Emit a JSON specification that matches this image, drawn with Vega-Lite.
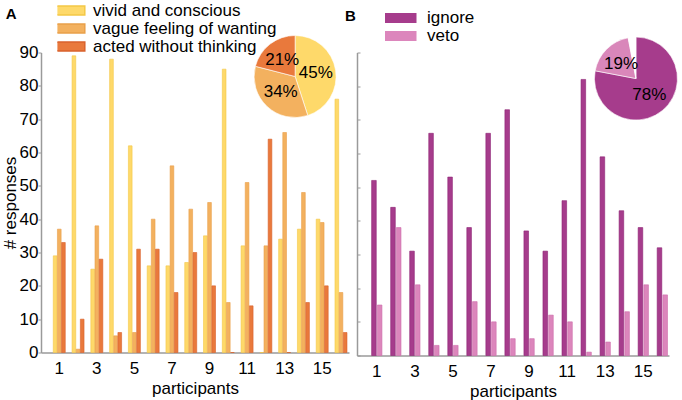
{
  "$schema": "https://vega.github.io/schema/vega-lite/v6.json",
  "background": "white",
  "padding": {"left": 1, "top": 2.5, "right": 4, "bottom": 2},
  "bounds": "flush",
  "spacing": 8,
  "config": {
    "font": "Liberation Sans",
    "view": {"stroke": null},
    "axis": {
      "grid": false,
      "domainColor": "#9a9a9a",
      "domainWidth": 1.5,
      "tickColor": "#9a9a9a",
      "labelFontSize": 17,
      "labelColor": "black",
      "titleFontSize": 17,
      "titleFontWeight": "normal",
      "titleColor": "black"
    },
    "legend": {"labelFontSize": 17, "labelColor": "black", "labelLimit": 400},
    "text": {"color": "black"}
  },
  "resolve": {
    "scale": {
      "x": "independent",
      "y": "independent",
      "xOffset": "independent",
      "color": "independent",
      "stroke": "independent",
      "theta": "independent"
    }
  },
  "datasets": {
    "responses": [
      {"participant": 1, "category": "vivid and conscious", "count": 29},
      {"participant": 1, "category": "vague feeling of wanting", "count": 37},
      {"participant": 1, "category": "acted without thinking", "count": 33},
      {"participant": 2, "category": "vivid and conscious", "count": 89},
      {"participant": 2, "category": "vague feeling of wanting", "count": 1},
      {"participant": 2, "category": "acted without thinking", "count": 10},
      {"participant": 3, "category": "vivid and conscious", "count": 25},
      {"participant": 3, "category": "vague feeling of wanting", "count": 38},
      {"participant": 3, "category": "acted without thinking", "count": 28},
      {"participant": 4, "category": "vivid and conscious", "count": 88},
      {"participant": 4, "category": "vague feeling of wanting", "count": 5},
      {"participant": 4, "category": "acted without thinking", "count": 6},
      {"participant": 5, "category": "vivid and conscious", "count": 62},
      {"participant": 5, "category": "vague feeling of wanting", "count": 6},
      {"participant": 5, "category": "acted without thinking", "count": 31},
      {"participant": 6, "category": "vivid and conscious", "count": 26},
      {"participant": 6, "category": "vague feeling of wanting", "count": 40},
      {"participant": 6, "category": "acted without thinking", "count": 31},
      {"participant": 7, "category": "vivid and conscious", "count": 26},
      {"participant": 7, "category": "vague feeling of wanting", "count": 56},
      {"participant": 7, "category": "acted without thinking", "count": 18},
      {"participant": 8, "category": "vivid and conscious", "count": 27},
      {"participant": 8, "category": "vague feeling of wanting", "count": 43},
      {"participant": 8, "category": "acted without thinking", "count": 30},
      {"participant": 9, "category": "vivid and conscious", "count": 35},
      {"participant": 9, "category": "vague feeling of wanting", "count": 45},
      {"participant": 9, "category": "acted without thinking", "count": 20},
      {"participant": 10, "category": "vivid and conscious", "count": 85},
      {"participant": 10, "category": "vague feeling of wanting", "count": 15},
      {"participant": 10, "category": "acted without thinking", "count": 0},
      {"participant": 11, "category": "vivid and conscious", "count": 32},
      {"participant": 11, "category": "vague feeling of wanting", "count": 51},
      {"participant": 11, "category": "acted without thinking", "count": 14},
      {"participant": 12, "category": "vivid and conscious", "count": 0},
      {"participant": 12, "category": "vague feeling of wanting", "count": 32},
      {"participant": 12, "category": "acted without thinking", "count": 64},
      {"participant": 13, "category": "vivid and conscious", "count": 34},
      {"participant": 13, "category": "vague feeling of wanting", "count": 66},
      {"participant": 13, "category": "acted without thinking", "count": 0},
      {"participant": 14, "category": "vivid and conscious", "count": 37},
      {"participant": 14, "category": "vague feeling of wanting", "count": 48},
      {"participant": 14, "category": "acted without thinking", "count": 15},
      {"participant": 15, "category": "vivid and conscious", "count": 40},
      {"participant": 15, "category": "vague feeling of wanting", "count": 39},
      {"participant": 15, "category": "acted without thinking", "count": 20},
      {"participant": 16, "category": "vivid and conscious", "count": 76},
      {"participant": 16, "category": "vague feeling of wanting", "count": 18},
      {"participant": 16, "category": "acted without thinking", "count": 6}
    ],
    "decisions": [
      {"participant": 1, "category": "ignore", "count": 52},
      {"participant": 1, "category": "veto", "count": 15},
      {"participant": 2, "category": "ignore", "count": 44},
      {"participant": 2, "category": "veto", "count": 38},
      {"participant": 3, "category": "ignore", "count": 31},
      {"participant": 3, "category": "veto", "count": 21},
      {"participant": 4, "category": "ignore", "count": 66},
      {"participant": 4, "category": "veto", "count": 3},
      {"participant": 5, "category": "ignore", "count": 53},
      {"participant": 5, "category": "veto", "count": 3},
      {"participant": 6, "category": "ignore", "count": 38},
      {"participant": 6, "category": "veto", "count": 16},
      {"participant": 7, "category": "ignore", "count": 66},
      {"participant": 7, "category": "veto", "count": 10},
      {"participant": 8, "category": "ignore", "count": 73},
      {"participant": 8, "category": "veto", "count": 5},
      {"participant": 9, "category": "ignore", "count": 37},
      {"participant": 9, "category": "veto", "count": 5},
      {"participant": 10, "category": "ignore", "count": 31},
      {"participant": 10, "category": "veto", "count": 12},
      {"participant": 11, "category": "ignore", "count": 46},
      {"participant": 11, "category": "veto", "count": 10},
      {"participant": 12, "category": "ignore", "count": 82},
      {"participant": 12, "category": "veto", "count": 1},
      {"participant": 13, "category": "ignore", "count": 59},
      {"participant": 13, "category": "veto", "count": 4},
      {"participant": 14, "category": "ignore", "count": 43},
      {"participant": 14, "category": "veto", "count": 13},
      {"participant": 15, "category": "ignore", "count": 38},
      {"participant": 15, "category": "veto", "count": 21},
      {"participant": 16, "category": "ignore", "count": 32},
      {"participant": 16, "category": "veto", "count": 18}
    ],
    "pieA": [
      {"category": "vivid and conscious", "pct": 45, "label": "45%"},
      {"category": "vague feeling of wanting", "pct": 34, "label": "34%"},
      {"category": "acted without thinking", "pct": 21, "label": "21%"}
    ],
    "pieB": [
      {"category": "ignore", "pct": 78, "label": "78%"},
      {"category": "veto", "pct": 19, "label": "19%"},
      {"category": "other", "pct": 3, "label": ""}
    ]
  },
  "hconcat": [
    {
      "width": 308,
      "height": 300,
      "layer": [
        {
          "data": {"name": "responses"},
          "mark": {"type": "bar", "strokeWidth": 0.6},
          "encoding": {
            "x": {
              "field": "participant",
              "type": "ordinal",
              "scale": {"paddingInner": 0.3, "paddingOuter": 0.35, "align": 0.89},
              "axis": {
                "values": [1, 3, 5, 7, 9, 11, 13, 15],
                "title": "participants",
                "labelAngle": 0,
                "ticks": false,
                "labelPadding": 8,
                "titlePadding": 4
              }
            },
            "xOffset": {
              "field": "category",
              "type": "nominal",
              "sort": ["vivid and conscious", "vague feeling of wanting", "acted without thinking"],
              "scale": {"paddingInner": 0.11, "paddingOuter": 0.14}
            },
            "y": {
              "field": "count",
              "type": "quantitative",
              "scale": {"domain": [0, 90]},
              "axis": {
                "values": [0, 10, 20, 30, 40, 50, 60, 70, 80, 90],
                "labelOverlap": false,
                "title": "# responses",
                "tickSize": 3,
                "labelPadding": 0,
                "titlePadding": 0
              }
            },
            "color": {
              "field": "category",
              "type": "nominal",
              "scale": {
                "domain": ["vivid and conscious", "vague feeling of wanting", "acted without thinking"],
                "range": ["#fed96a", "#f3b15f", "#e9793c"]
              },
              "legend": {
                "orient": "none",
                "legendX": 16.4,
                "legendY": -49.4,
                "title": null,
                "symbolType": "M-4.2,-1H4.2V1H-4.2Z",
                "symbolSize": 81,
                "symbolOpacity": 1,
                "labelOffset": 18.6,
                "clipHeight": 15,
                "rowPadding": 0
              }
            },
            "stroke": {
              "field": "category",
              "type": "nominal",
              "scale": {
                "domain": ["vivid and conscious", "vague feeling of wanting", "acted without thinking"],
                "range": ["#f4c846", "#e9a04a", "#d9622c"]
              },
              "legend": null
            }
          }
        },
        {
          "data": {"name": "pieA"},
          "encoding": {
            "x": {"datum": 0.825, "type": "quantitative", "scale": {"domain": [0, 1]}, "axis": null},
            "y": {"datum": 0.92, "type": "quantitative", "scale": {"domain": [0, 1]}, "axis": null},
            "theta": {"field": "pct", "type": "quantitative", "stack": true},
            "order": {"field": "pct", "sort": "descending"},
            "color": {"field": "category", "type": "nominal"}
          },
          "layer": [
            {"mark": {"type": "arc", "outerRadius": 41, "stroke": "#ffffff", "strokeWidth": 0.6}},
            {
              "mark": {"type": "text", "radius": 21, "fontSize": 17},
              "encoding": {"text": {"field": "label"}, "color": {"value": "black"}}
            }
          ]
        },
        {
          "data": {"values": [{"panel": "A"}]},
          "mark": {"type": "text", "fontSize": 15, "fontWeight": "bold", "align": "center", "baseline": "middle"},
          "encoding": {
            "x": {"datum": -0.097, "type": "quantitative", "scale": {"domain": [0, 1]}, "axis": null},
            "y": {"datum": 1.127, "type": "quantitative", "scale": {"domain": [0, 1]}, "axis": null},
            "text": {"field": "panel"}
          }
        }
      ],
      "resolve": {"scale": {"x": "independent", "y": "independent"}}
    },
    {
      "width": 312,
      "height": 303,
      "layer": [
        {
          "data": {"name": "decisions"},
          "mark": {"type": "bar", "strokeWidth": 0.6},
          "encoding": {
            "x": {
              "field": "participant",
              "type": "ordinal",
              "scale": {"paddingInner": 0.3, "paddingOuter": 0.345, "align": 1},
              "axis": {
                "values": [1, 3, 5, 7, 9, 11, 13, 15],
                "title": "participants",
                "labelAngle": 0,
                "ticks": false,
                "labelPadding": 8,
                "titlePadding": 4
              }
            },
            "xOffset": {
              "field": "category",
              "type": "nominal",
              "sort": ["ignore", "veto"],
              "scale": {"paddingInner": 0.19, "paddingOuter": 0.265}
            },
            "y": {
              "field": "count",
              "type": "quantitative",
              "scale": {"domain": [0, 90]},
              "axis": {
                "values": [0, 10, 20, 30, 40, 50, 60, 70, 80, 90],
                "title": null,
                "labels": false,
                "tickSize": -3
              }
            },
            "color": {
              "field": "category",
              "type": "nominal",
              "scale": {"domain": ["ignore", "veto"], "range": ["#a63c8c", "#dc86bc"]},
              "legend": {
                "orient": "none",
                "legendX": 28,
                "legendY": -42,
                "title": null,
                "symbolType": "M-4.6,-1H4.6V1H-4.6Z",
                "symbolSize": 100,
                "symbolOpacity": 1,
                "labelOffset": 25,
                "clipHeight": 15,
                "rowPadding": 0
              }
            },
            "stroke": {
              "field": "category",
              "type": "nominal",
              "scale": {"domain": ["ignore", "veto"], "range": ["#8d2174", "#cf6dab"]},
              "legend": null
            }
          }
        },
        {
          "data": {"name": "pieB"},
          "encoding": {
            "x": {"datum": 0.894, "type": "quantitative", "scale": {"domain": [0, 1]}, "axis": null},
            "y": {"datum": 0.914, "type": "quantitative", "scale": {"domain": [0, 1]}, "axis": null},
            "theta": {"field": "pct", "type": "quantitative", "stack": true},
            "order": {"field": "pct", "sort": "descending"},
            "color": {
              "field": "category",
              "type": "nominal",
              "scale": {"domain": ["ignore", "veto", "other"], "range": ["#a63c8c", "#d987ba", "#ffffff"]},
              "legend": null
            }
          },
          "layer": [
            {"mark": {"type": "arc", "outerRadius": 41.5, "stroke": "#ffffff", "strokeWidth": 0.6}},
            {
              "mark": {"type": "text", "radius": 21, "fontSize": 17},
              "encoding": {"text": {"field": "label"}, "color": {"value": "black"}}
            }
          ]
        },
        {
          "data": {"values": [{"panel": "B"}]},
          "mark": {"type": "text", "fontSize": 15, "fontWeight": "bold", "align": "center", "baseline": "middle"},
          "encoding": {
            "x": {"datum": -0.021, "type": "quantitative", "scale": {"domain": [0, 1]}, "axis": null},
            "y": {"datum": 1.122, "type": "quantitative", "scale": {"domain": [0, 1]}, "axis": null},
            "text": {"field": "panel"}
          }
        }
      ],
      "resolve": {"scale": {"x": "independent", "y": "independent", "color": "independent"}}
    }
  ]
}
